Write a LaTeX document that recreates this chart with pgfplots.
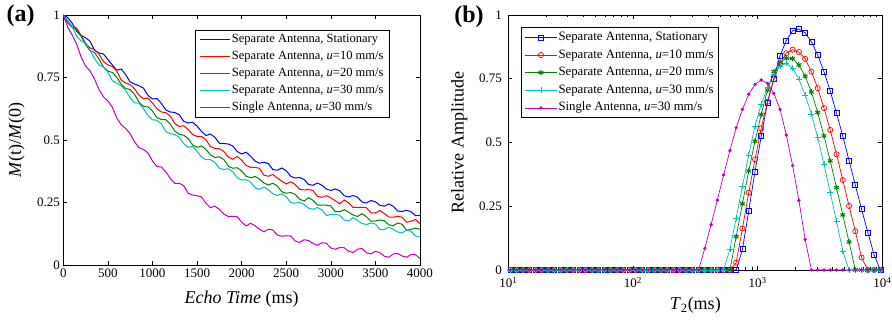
\documentclass[border=0pt]{standalone}
\usepackage{fontspec}
\setmainfont{Liberation Serif}
\usepackage{pgfplots}
\usepackage{pgfplotstable}
\pgfplotsset{compat=1.18}
\definecolor{mblue}{rgb}{0,0,1}
\definecolor{mred}{rgb}{1,0,0}
\definecolor{mgreen}{rgb}{0,0.5,0}
\definecolor{mcyan}{rgb}{0,0.75,0.75}
\definecolor{mmag}{rgb}{0.75,0,0.75}

\pgfplotstableread{
t b r g c m
0 1.000 1.000 1.000 1.000 1.000
50 0.990 0.976 0.968 0.978 0.951
100 0.967 0.953 0.950 0.954 0.920
150 0.935 0.948 0.940 0.915 0.883
200 0.918 0.918 0.915 0.896 0.832
250 0.909 0.887 0.881 0.888 0.795
300 0.895 0.868 0.857 0.860 0.776
350 0.859 0.862 0.850 0.825 0.744
400 0.848 0.843 0.824 0.800 0.702
450 0.844 0.814 0.792 0.791 0.673
500 0.822 0.800 0.775 0.771 0.656
550 0.800 0.794 0.770 0.737 0.631
600 0.779 0.776 0.751 0.727 0.588
650 0.784 0.739 0.722 0.717 0.561
700 0.761 0.728 0.706 0.698 0.546
750 0.732 0.721 0.702 0.668 0.525
800 0.724 0.704 0.682 0.649 0.492
850 0.717 0.679 0.651 0.647 0.469
900 0.707 0.665 0.634 0.624 0.462
950 0.678 0.668 0.632 0.598 0.448
1000 0.664 0.648 0.616 0.581 0.416
1050 0.666 0.625 0.589 0.579 0.394
1100 0.646 0.612 0.582 0.564 0.392
1150 0.620 0.609 0.581 0.534 0.372
1200 0.612 0.595 0.563 0.525 0.346
1250 0.610 0.566 0.536 0.522 0.326
1300 0.601 0.554 0.523 0.511 0.327
1350 0.575 0.557 0.519 0.486 0.317
1400 0.568 0.542 0.506 0.470 0.287
1450 0.571 0.522 0.480 0.475 0.280
1500 0.556 0.514 0.471 0.454 0.277
1550 0.534 0.514 0.476 0.432 0.272
1600 0.518 0.501 0.462 0.421 0.247
1650 0.524 0.474 0.441 0.421 0.229
1700 0.511 0.466 0.430 0.411 0.235
1750 0.487 0.465 0.433 0.387 0.223
1800 0.486 0.454 0.422 0.382 0.204
1850 0.484 0.432 0.396 0.385 0.194
1900 0.476 0.423 0.387 0.373 0.195
1950 0.454 0.434 0.389 0.349 0.193
2000 0.444 0.419 0.376 0.340 0.172
2050 0.451 0.398 0.355 0.341 0.156
2100 0.435 0.391 0.349 0.332 0.167
2150 0.416 0.390 0.354 0.309 0.157
2200 0.407 0.387 0.344 0.303 0.143
2250 0.411 0.359 0.328 0.312 0.133
2300 0.405 0.355 0.320 0.301 0.143
2350 0.382 0.362 0.327 0.285 0.140
2400 0.379 0.348 0.316 0.278 0.120
2450 0.388 0.335 0.293 0.285 0.115
2500 0.377 0.324 0.287 0.273 0.117
2550 0.355 0.333 0.290 0.250 0.116
2600 0.348 0.322 0.283 0.247 0.096
2650 0.350 0.303 0.263 0.251 0.090
2700 0.342 0.300 0.256 0.242 0.101
2750 0.322 0.302 0.269 0.227 0.098
2800 0.319 0.298 0.259 0.223 0.086
2850 0.328 0.274 0.240 0.230 0.079
2900 0.319 0.271 0.239 0.220 0.089
2950 0.304 0.277 0.239 0.198 0.087
3000 0.298 0.269 0.236 0.202 0.068
3050 0.304 0.257 0.213 0.202 0.063
3100 0.297 0.245 0.213 0.199 0.070
3150 0.277 0.260 0.221 0.180 0.069
3200 0.272 0.249 0.211 0.176 0.055
3250 0.278 0.230 0.200 0.190 0.050
3300 0.271 0.230 0.194 0.178 0.063
3350 0.252 0.231 0.205 0.166 0.066
3400 0.248 0.229 0.193 0.162 0.049
3450 0.258 0.209 0.175 0.168 0.044
3500 0.253 0.208 0.176 0.164 0.055
3550 0.239 0.218 0.180 0.142 0.049
3600 0.235 0.206 0.177 0.142 0.035
3650 0.244 0.192 0.161 0.151 0.031
3700 0.235 0.191 0.157 0.143 0.044
3750 0.216 0.195 0.168 0.132 0.046
3800 0.214 0.191 0.163 0.128 0.036
3850 0.219 0.171 0.139 0.140 0.031
3900 0.213 0.175 0.143 0.134 0.042
3950 0.197 0.182 0.147 0.116 0.041
4000 0.198 0.165 0.143 0.112 0.026
}\decay

\pgfplotstableread{
x b r g c m
10.40 0 0 0 0 0
11.67 0 0 0 0 0
13.11 0 0 0 0 0
14.72 0 0 0 0 0
16.53 0 0 0 0 0
18.56 0 0 0 0 0
20.84 0 0 0 0 0
23.39 0 0 0 0 0
26.27 0 0 0 0 0
29.49 0 0 0 0 0
33.11 0 0 0 0 0
37.18 0 0 0 0 0
41.75 0 0 0 0 0
46.87 0 0 0 0 0
52.63 0 0 0 0 0
59.09 0 0 0 0 0
66.35 0 0 0 0 0
74.49 0 0 0 0 0
83.64 0 0 0 0 0
93.91 0 0 0 0 0
105.4 0 0 0 0 0
118.4 0 0 0 0 0
132.9 0 0 0 0 0
149.2 0 0 0 0 0
167.6 0 0 0 0 0
188.1 0 0 0 0 0
211.3 0 0 0 0 0
237.2 0 0 0 0 0
266.3 0 0 0 0 0
299.0 0 0 0 0 0
335.7 0 0 0 0 0
377.0 0 0 0 0 0.085
423.3 0 0 0 0 0.178
475.2 0 0 0 0 0.274
533.6 0 0 0 0 0.373
599.1 0 0 0 0.081 0.468
672.7 0 0.029 0.131 0.203 0.558
755.3 0.081 0.163 0.260 0.329 0.630
848.0 0.231 0.303 0.388 0.451 0.689
952.2 0.386 0.434 0.505 0.565 0.728
1069 0.525 0.556 0.610 0.650 0.745
1200 0.657 0.660 0.706 0.716 0.732
1348 0.749 0.748 0.778 0.769 0.693
1513 0.841 0.810 0.814 0.800 0.630
1699 0.900 0.850 0.831 0.810 0.529
1908 0.938 0.864 0.829 0.791 0.410
2142 0.945 0.855 0.804 0.748 0.273
2405 0.930 0.828 0.760 0.686 0.120
2700 0.895 0.778 0.698 0.612 0
3032 0.843 0.713 0.618 0.520 0
3404 0.778 0.635 0.526 0.414 0
3822 0.702 0.549 0.428 0.303 0
4292 0.615 0.454 0.323 0.191 0
4819 0.525 0.353 0.216 0.074 0
5410 0.429 0.251 0.110 0 0
6075 0.333 0.152 0 0 0
6821 0.238 0.049 0 0 0
7658 0.147 0 0 0 0
8599 0.059 0 0 0 0
9654 0 0 0 0 0
}\dist

\pgfplotsset{
  common/.style={
    scale only axis, anchor=south west,
    ymin=0, ymax=1,
    ytick={0,0.25,0.5,0.75,1}, yticklabels={0,0.25,0.5,0.75,1},
    tick align=inside, major tick length=4pt, minor tick length=2.5pt,
    tick style={line width=0.6pt, black},
    axis line style={line width=0.9pt},
    tick label style={font=\fontsize{13}{13}\selectfont},
    label style={font=\fontsize{18}{18}\selectfont},
    legend cell align=left,
  }
}

\begin{document}
\begin{tikzpicture}[x=1pt,y=1pt]
\useasboundingbox (0,0) rectangle (892,320);
\begin{axis}[common,
  at={(63.3pt,55pt)}, width=356.7pt, height=250pt,
  xmin=0, xmax=4000,
  xtick={0,500,1000,1500,2000,2500,3000,3500,4000},
  xticklabels={0,500,1000,1500,2000,2500,3000,3500,4000},
  xlabel={\textit{Echo Time} (ms)},
  ylabel={\textit{M}(t)/\textit{M}(0)},
  xlabel style={at={(axis description cs:0.5,-0.153)}, anchor=base},
  ylabel style={at={(axis description cs:-0.131,0.5)}, anchor=center},
  legend style={at={(0.369,0.94)}, anchor=north west, draw=black, line width=0.9pt,
    inner xsep=4pt, inner ysep=1pt, font=\fontsize{12.5}{12.5}\selectfont,
    nodes={inner xsep=1.6pt, inner ysep=2.5pt, text height=9pt, text depth=3pt}, row sep=0pt},
  legend image code/.code={\draw[#1] (0pt,0pt) -- (30pt,0pt);},
]
\addplot[mblue, line width=1pt] table[x=t,y=b]{\decay};
\addplot[mred, line width=1pt] table[x=t,y=r]{\decay};
\addplot[mgreen, line width=1pt] table[x=t,y=g]{\decay};
\addplot[mcyan, line width=1pt] table[x=t,y=c]{\decay};
\addplot[mmag, line width=1pt] table[x=t,y=m]{\decay};
\legend{Separate Antenna{,} Stationary, Separate Antenna{,} \textit{u}=10 mm/s, Separate Antenna{,} \textit{u}=20 mm/s, Separate Antenna{,} \textit{u}=30 mm/s, Single Antenna{,} \textit{u}=30 mm/s}
\end{axis}

\begin{axis}[common,
  at={(508.3pt,50pt)}, width=374pt, height=255pt,
  xmode=log, xmin=10, xmax=10000, clip=false,
  xtick={10,100,1000,10000},
  xticklabels={10\textsuperscript{1},10\textsuperscript{2},10\textsuperscript{3},10\textsuperscript{4}},
  xticklabel style={yshift=-4pt},
  minor xtick={20,30,40,50,60,70,80,90,200,300,400,500,600,700,800,900,2000,3000,4000,5000,6000,7000,8000,9000},
  yticklabel style={xshift=-3pt},
  xlabel={\textit{T}\textsubscript{2}(ms)},
  ylabel={Relative Amplitude},
  xlabel style={at={(axis description cs:0.5,-0.155)}, anchor=base},
  ylabel style={at={(axis description cs:-0.131,0.5)}, anchor=center},
  legend style={at={(0.033,0.952)}, anchor=north west, draw=black, line width=0.9pt,
    inner xsep=3.5pt, inner ysep=1pt, font=\fontsize{12.8}{12.8}\selectfont,
    nodes={inner xsep=1.2pt, inner ysep=2.8pt, text height=9pt, text depth=3pt}, row sep=0pt},
  legend image code/.code={\draw[mark repeat=2,mark phase=2,#1] plot coordinates {(0pt,0pt) (16pt,0pt) (32pt,0pt)};},
]
\addplot[mblue, line width=0.7pt, mark=square, mark size=2.5pt, mark options={solid, line width=0.7pt}] table[x=x,y=b]{\dist};
\addplot[mred, line width=0.7pt, mark=o, mark size=2.6pt, mark options={solid, line width=0.7pt}] table[x=x,y=r]{\dist};
\addplot[mgreen, line width=0.7pt, mark=asterisk, mark size=2.8pt, mark options={solid, line width=1pt}] table[x=x,y=g]{\dist};
\addplot[mcyan, line width=0.7pt, mark=+, mark size=3pt, mark options={solid, line width=0.7pt}] table[x=x,y=c]{\dist};
\addplot[mmag, line width=0.7pt, mark=*, mark size=1.3pt, mark options={solid}] table[x=x,y=m]{\dist};
\legend{Separate Antenna{,} Stationary, Separate Antenna{,} \textit{u}=10 mm/s, Separate Antenna{,} \textit{u}=20 mm/s, Separate Antenna{,} \textit{u}=30 mm/s, Single Antenna{,} \textit{u}=30 mm/s}
\end{axis}

\node[font=\bfseries\fontsize{24}{24}\selectfont] at (20.5,304.3) {(a)};
\node[font=\bfseries\fontsize{24}{24}\selectfont] at (469,303.3) {(b)};
\end{tikzpicture}
\end{document}
